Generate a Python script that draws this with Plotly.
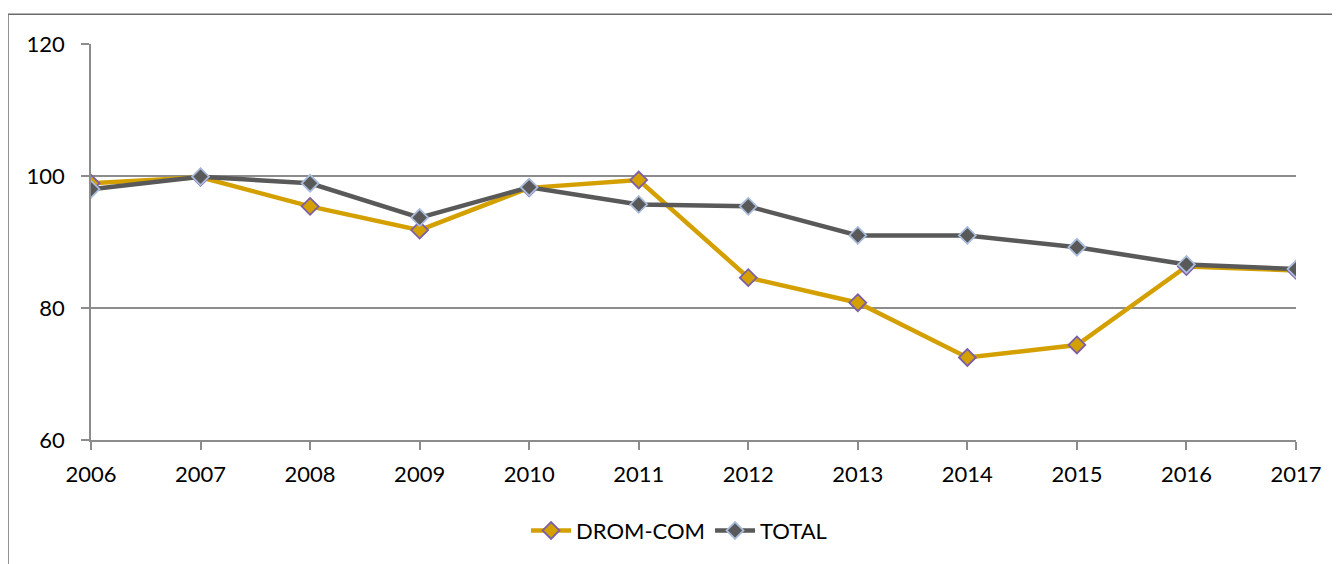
import plotly.graph_objects as go

years = ["2006", "2007", "2008", "2009", "2010", "2011", "2012", "2013", "2014", "2015", "2016", "2017"]
drom_com = [98.9, 99.8, 95.4, 91.8, 98.2, 99.4, 84.6, 80.8, 72.5, 74.4, 86.3, 85.7]
total = [98.0, 99.9, 98.9, 93.7, 98.3, 95.7, 95.4, 91.0, 91.0, 89.2, 86.6, 85.9]

gold = "#D4A000"
dark = "#595959"
font = "Lato, 'Open Sans', sans-serif"

fig = go.Figure()
fig.add_trace(go.Scatter(
    x=years, y=drom_com, name="DROM-COM", mode="lines+markers",
    line=dict(color=gold, width=4.5),
    marker=dict(symbol="diamond", size=13, color=gold, line=dict(color="#7B5EA7", width=1.8)),
))
fig.add_trace(go.Scatter(
    x=years, y=total, name="TOTAL", mode="lines+markers",
    line=dict(color=dark, width=4.5),
    marker=dict(symbol="diamond", size=13, color=dark, line=dict(color="#A9BCDB", width=1.8)),
))

fig.update_layout(
    width=1332, height=556,
    margin=dict(l=83, r=44, t=36, b=122),
    paper_bgcolor="white", plot_bgcolor="white",
    font=dict(family=font, size=22, color="#000000"),
    showlegend=True,
    legend=dict(orientation="h", x=0.488, xanchor="center", y=-0.229, yanchor="middle",
                font=dict(size=22), itemwidth=40, entrywidth=0),
    shapes=[dict(type="rect", xref="paper", yref="paper",
                 x0=-0.0689, x1=1.2, y0=-0.6, y1=1.0754,
                 line=dict(color="#6b6b6b", width=1.5), layer="below")],
)
fig.update_xaxes(
    type="category", range=[0, 11], showgrid=False,
    showline=True, linecolor="#8c8c8c", linewidth=1.5,
    ticks="outside", ticklen=8, tickcolor="#8c8c8c", tickwidth=1.5,
    ticklabelstandoff=6,
)
fig.update_yaxes(
    range=[60, 120], dtick=20, showgrid=True, gridcolor="#8c8c8c", gridwidth=1.5,
    showline=True, linecolor="#8c8c8c", linewidth=1.5, zeroline=False,
    ticks="outside", ticklen=8, tickcolor="#8c8c8c", tickwidth=1.5,
    ticklabelstandoff=12,
)

fig.write_html("out.html")
